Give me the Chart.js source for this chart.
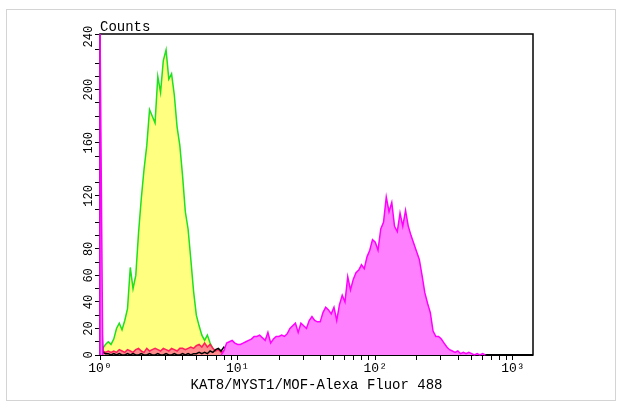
<!DOCTYPE html>
<html>
<head>
<meta charset="utf-8">
<script src="https://cdn.jsdelivr.net/npm/chart.js@4"></script>
<style>
    body { margin: 0; background: #fff; }
    #wrap { position: relative; width: 620px; height: 403px; }
    #edge { position: absolute; left: 6px; top: 9px; width: 608px; height: 390px; border: 1px solid #d4d4d4; pointer-events: none; }
</style>
</head>
<body>
<div id="wrap">
    <canvas id="histChart" width="620" height="403"></canvas>
    <div id="edge"></div>
</div>
<script>
// Histogram channels: 50 bins per decade, bin i sits at 10^(i/50)
const binsPerDecade = 50;

// Unstained control (yellow fill, green outline), starts at bin 0
const controlCounts = [8, 5, 8, 10, 8, 12, 20, 24, 19, 26, 35, 66, 50, 60, 92, 118, 140, 158, 185, 180,
    175, 210, 198, 222, 230, 208, 212, 196, 172, 158, 135, 108, 95, 72, 48, 30, 22, 15, 11, 15,
    9, 5, 2, 1, 2, 1, 3, 1, 0, 1, 0, 0];

// Isotype control (red), starts at bin 0
const isotypeCounts = [27, 3, 2, 3, 2, 3, 2, 4, 3, 2, 4, 3, 2, 4, 5, 3, 2, 5, 3, 4,
    5, 4, 3, 5, 4, 3, 5, 4, 3, 5, 5, 4, 5, 6, 5, 7, 8, 6, 9, 6,
    8, 5, 3, 4, 2, 3, 1, 2, 0, 1, 0];

// Blank (black), starts at bin 0
const blankCounts = [78, 2, 1, 1, 0, 1, 0, 1, 0, 0, 1, 0, 1, 0, 0, 1, 0, 0, 1, 0,
    0, 1, 0, 0, 1, 0, 0, 1, 0, 0, 1, 0, 1, 0, 1, 1, 2, 1, 2, 1,
    3, 2, 4, 5, 3, 6, 4, 2, 5, 3, 1, 2, 0];

// KAT8 stained sample (magenta): first-channel pile-up, then main peak from bin 44
const sampleFirstBin = 250;
const sampleStart = 44;
const sampleCounts = [0, 3, 9, 10, 11, 9, 8, 8, 9, 10,
    11, 12, 14, 14, 15, 13, 11, 17, 9, 12,
    14, 14, 15, 14, 16, 20, 22, 24, 17, 24,
    22, 20, 26, 29, 26, 25, 25, 32, 36, 34,
    31, 36, 26, 38, 45, 40, 59, 49, 57, 62,
    64, 68, 65, 74, 79, 87, 85, 79, 95, 100,
    119, 108, 115, 97, 93, 107, 97, 109, 97,
    90, 84, 78, 72, 60, 47, 39, 32, 18, 14, 14, 12, 9, 6, 4, 3, 2, 3, 1, 2, 1, 2, 1, 0, 1, 0, 1, 0];

const xDecades = [1, 10, 100, 1000];
const xDecadeLabels = ['10⁰', '10¹', '10²', '10³'];
const yLabelValues = [0, 20, 40, 60, 80, 120, 160, 200, 240];

function toPoints(counts, start) {
    return counts.map((c, i) => ({ x: Math.pow(10, (start + i) / binsPerDecade), y: c }));
}

// first channel is drawn as a vertical edge at x = 1
const samplePoints = [
    { x: 1, y: 0 },
    { x: 1, y: sampleFirstBin },
    { x: Math.pow(10, 1 / binsPerDecade), y: 0 },
    { x: Math.pow(10, 2 / binsPerDecade), y: null }
].concat(toPoints(sampleCounts, sampleStart));

const monoFont = "'Liberation Mono', 'DejaVu Sans Mono', monospace";

// frame, "Counts" label and rotated y labels
const framePlugin = {
    id: 'frame',
    beforeDatasetsDraw(chart) {
        const a = chart.chartArea;
        const ctx = chart.ctx;
        ctx.save();
        ctx.strokeStyle = '#000';
        ctx.lineWidth = 1.5;
        ctx.strokeRect(a.left, a.top, a.right - a.left, a.bottom - a.top);
        ctx.lineWidth = 2;
        ctx.beginPath();
        ctx.moveTo(a.left, a.bottom);
        ctx.lineTo(a.right, a.bottom);
        ctx.stroke();
        ctx.restore();
    },
    afterDraw(chart) {
        const a = chart.chartArea;
        const ctx = chart.ctx;
        const yScale = chart.scales.y;
        ctx.save();
        ctx.fillStyle = '#000';
        ctx.font = '14px ' + monoFont;
        ctx.textAlign = 'left';
        ctx.textBaseline = 'alphabetic';
        ctx.fillText('Counts', a.left, a.top - 3);

        ctx.font = '12px ' + monoFont;
        ctx.textAlign = 'center';
        ctx.textBaseline = 'middle';
        yLabelValues.forEach(v => {
            const py = yScale.getPixelForValue(v);
            ctx.save();
            ctx.translate(a.left - 11, py);
            ctx.rotate(-Math.PI / 2);
            ctx.fillText(String(v), 0, 0);
            ctx.restore();
        });
        ctx.restore();
    }
};

const ctx = document.getElementById('histChart').getContext('2d');

new Chart(ctx, {
    type: 'line',
    data: {
        datasets: [
            {
                label: 'KAT8',
                data: samplePoints,
                borderColor: '#ff00ff',
                backgroundColor: '#ff80ff',
                borderWidth: 1.5,
                fill: 'origin',
                spanGaps: false,
                clip: { left: 2, top: 0, right: 0, bottom: 1 }
            },
            {
                label: 'Blank',
                data: toPoints(blankCounts, 0),
                borderColor: '#000000',
                backgroundColor: '#202020',
                borderWidth: 1.5,
                fill: false
            },
            {
                label: 'Isotype',
                data: toPoints(isotypeCounts, 0),
                borderColor: '#ff1f5a',
                backgroundColor: '#ff8c8c',
                borderWidth: 1.5,
                fill: 'origin'
            },
            {
                label: 'Control',
                data: toPoints(controlCounts, 0),
                borderColor: '#1ee01e',
                backgroundColor: '#ffff80',
                borderWidth: 1.5,
                fill: 'origin'
            }
        ]
    },
    options: {
        responsive: false,
        animation: false,
        devicePixelRatio: 1,
        parsing: false,
        elements: {
            point: { radius: 0 },
            line: { tension: 0 }
        },
        layout: {
            padding: { left: 0, right: 87, top: 34, bottom: 0 }
        },
        scales: {
            x: {
                type: 'logarithmic',
                min: 1,
                max: 1400,
                afterFit: scale => { scale.height = 48; },
                afterBuildTicks: scale => {
                    const ticks = [];
                    xDecades.forEach(d => {
                        for (let m = 1; m <= 9; m++) {
                            if (d * m <= 1400) ticks.push({ value: d * m, major: m === 1 });
                        }
                    });
                    scale.ticks = ticks;
                },
                grid: {
                    display: true,
                    drawOnChartArea: false,
                    drawTicks: true,
                    tickLength: 5,
                    tickColor: '#000',
                    tickWidth: 1
                },
                border: { display: false },
                ticks: {
                    autoSkip: false,
                    maxRotation: 0,
                    padding: 1,
                    color: '#000',
                    font: { family: monoFont, size: 13 },
                    callback: function(value) {
                        const idx = xDecades.indexOf(value);
                        return idx >= 0 ? xDecadeLabels[idx] : '';
                    }
                },
                title: {
                    display: true,
                    text: 'KAT8/MYST1/MOF-Alexa Fluor 488',
                    color: '#000',
                    font: { family: monoFont, size: 14 },
                    padding: { top: 0, bottom: 9 }
                }
            },
            y: {
                min: 0,
                max: 242,
                afterFit: scale => { scale.width = 100; },
                grid: {
                    display: true,
                    drawOnChartArea: false,
                    drawTicks: true,
                    tickLength: 5,
                    tickColor: '#000',
                    tickWidth: 1
                },
                border: { display: false },
                ticks: {
                    stepSize: 10,
                    autoSkip: false,
                    callback: () => ''
                }
            }
        },
        plugins: {
            legend: { display: false },
            tooltip: { enabled: false }
        }
    },
    plugins: [framePlugin]
});
</script>
</body>
</html>
